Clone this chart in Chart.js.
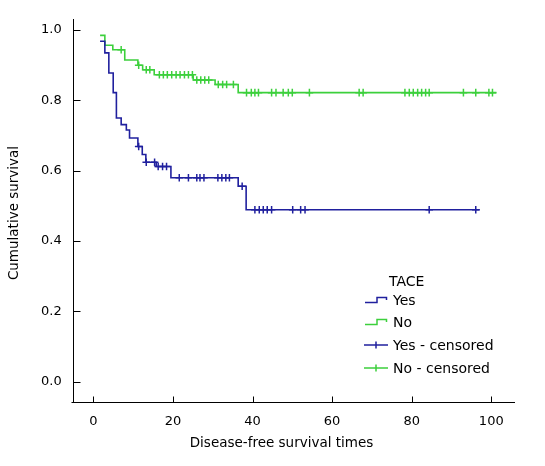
<!DOCTYPE html>
<html><head><meta charset="utf-8">
<script src="https://cdn.jsdelivr.net/npm/chart.js@4/dist/chart.umd.min.js"></script>
<style>
html,body{margin:0;padding:0;background:#fff;}
#wrap{position:relative;width:545px;height:466px;overflow:hidden;}
canvas{position:absolute;left:0;top:0;}
.lg{position:absolute;font-family:'DejaVu Sans';font-size:14px;line-height:16px;color:#000;white-space:nowrap;}
.ic{position:absolute;}
</style></head><body>
<div id="wrap"><canvas id="c" width="545" height="466"></canvas><div id="legend"></div></div>
<script>
// ---- data ----
const yesTimes = [1.7, 2.9, 3.9, 5.0, 5.8, 7.0, 8.3, 9.1, 11.2, 12.3, 13.2, 15.8, 19.5, 36.4, 38.4, 97.1];
const yesSurv  = [0.968, 0.935, 0.878, 0.822, 0.750, 0.731, 0.716, 0.693, 0.669, 0.646, 0.624, 0.612, 0.580, 0.556, 0.489, 0.489];
const yesCensored = [11.4, 13.3, 15.4, 16.3, 17.4, 18.4, 21.6, 23.9, 26.0, 26.8, 27.8, 31.3, 32.3, 33.3, 34.2, 37.4,
  40.6, 41.7, 42.7, 43.7, 44.8, 50.1, 52.1, 53.2, 84.4, 96.1];
const noTimes = [1.7, 2.9, 4.9, 7.9, 11.2, 12.4, 15.3, 25.1, 30.6, 36.4, 101.3];
const noSurv  = [0.985, 0.957, 0.944, 0.915, 0.900, 0.887, 0.873, 0.858, 0.845, 0.822, 0.822];
const noCensored = [7.0, 11.4, 13.3, 14.2, 16.6, 17.6, 18.6, 19.7, 20.8, 21.8, 22.9, 23.9, 24.9, 26.0, 27.0, 28.0, 29.0,
  31.4, 32.5, 33.5, 35.2, 38.5, 39.7, 40.6, 41.5, 44.8, 45.9, 47.7, 49.0, 50.0, 54.3, 66.8, 67.8,
  78.3, 79.4, 80.4, 81.5, 82.5, 83.5, 84.4, 93.0, 96.1, 99.4, 100.3];
const xTicks = [0, 20, 40, 60, 80, 100];
const yTicks = [0.0, 0.2, 0.4, 0.6, 0.8, 1.0];
const legendTitle = 'TACE';
const legendLabels = ['Yes', 'No', 'Yes - censored', 'No - censored'];
const xTitle = 'Disease-free survival times';
const yTitle = 'Cumulative survival';

const BLUE = '#20209e';
const GREEN = '#3cd03c';
const FONT = {family: 'DejaVu Sans', size: 13};
const TITLE_FONT = '13.5px "DejaVu Sans"';

function levelAt(times, surv, t) {
  let v = surv[0];
  for (let i = 0; i < times.length; i++) { if (times[i] <= t) v = surv[i]; }
  return v;
}
const curve = (times, surv) => times.map((t, i) => ({x: t, y: surv[i]}));
const marks = (cens, times, surv) => cens.map(t => ({x: t, y: levelAt(times, surv, t)}));

const axisPlugin = {
  id: 'axes',
  afterDraw(chart) {
    const {ctx, chartArea: a, scales: {x, y}} = chart;
    ctx.save();
    ctx.strokeStyle = '#000';
    ctx.lineWidth = 1;
    const L = Math.round(a.left) + 0.5, B = Math.round(a.bottom) + 0.5;
    ctx.beginPath();
    ctx.moveTo(L, Math.round(a.top));
    ctx.lineTo(L, B);
    ctx.moveTo(L - 2, B);
    ctx.lineTo(Math.round(a.right), B);
    xTicks.forEach(v => { const p = Math.round(x.getPixelForValue(v)) + 0.5; ctx.moveTo(p, B); ctx.lineTo(p, B - 6); });
    yTicks.forEach(v => { const p = Math.round(y.getPixelForValue(v)) + 0.5; ctx.moveTo(L, p); ctx.lineTo(L + 7, p); });
    ctx.stroke();
    // axis titles
    ctx.fillStyle = '#000';
    ctx.font = TITLE_FONT;
    ctx.textAlign = 'center';
    ctx.textBaseline = 'middle';
    ctx.fillText(xTitle, 281.5, 443);
    ctx.translate(14, 213);
    ctx.rotate(-Math.PI / 2);
    ctx.fillText(yTitle, 0, 0);
    ctx.restore();
  }
};

new Chart(document.getElementById('c'), {
  type: 'scatter',
  data: {
    datasets: [
      {label: legendLabels[0], data: curve(yesTimes, yesSurv), showLine: true, stepped: true,
        borderColor: BLUE, borderWidth: 1.6, pointRadius: 0, fill: false},
      {label: legendLabels[1], data: curve(noTimes, noSurv), showLine: true, stepped: true,
        borderColor: GREEN, borderWidth: 1.6, pointRadius: 0, fill: false},
      {label: legendLabels[2], data: marks(yesCensored, yesTimes, yesSurv), showLine: false,
        pointStyle: 'cross', pointRadius: 3.8, borderColor: BLUE, backgroundColor: BLUE, borderWidth: 1.5},
      {label: legendLabels[3], data: marks(noCensored, noTimes, noSurv), showLine: false,
        pointStyle: 'cross', pointRadius: 3.8, borderColor: GREEN, backgroundColor: GREEN, borderWidth: 1.5}
    ]
  },
  options: {
    responsive: false, animation: false, devicePixelRatio: 1,
    layout: {padding: {top: 18, right: 30, left: 0, bottom: 0}},
    plugins: {legend: {display: false}, tooltip: {enabled: false}},
    scales: {
      x: {
        type: 'linear', min: -5.18, max: 105.96,
        afterBuildTicks: s => { s.ticks = xTicks.map(v => ({value: v})); },
        afterFit: s => { s.height = 64.3; },
        grid: {display: false, drawTicks: false}, border: {display: false},
        ticks: {padding: 12, font: FONT, color: '#000', maxRotation: 0, autoSkip: false},
        title: {display: false}
      },
      y: {
        type: 'linear', min: -0.0568, max: 1.032,
        afterBuildTicks: s => { s.ticks = yTicks.map(v => ({value: v})); },
        afterFit: s => { s.width = 72.7; },
        grid: {display: false, drawTicks: false}, border: {display: false},
        ticks: {padding: 11, font: FONT, color: '#000', autoSkip: false, callback: v => v.toFixed(1)},
        title: {display: false}
      }
    }
  },
  plugins: [axisPlugin]
});

// ---- legend (HTML) ----
const lg = document.getElementById('legend');
const NS = 'http://www.w3.org/2000/svg';
function addText(txt, left, cy) {
  const d = document.createElement('div');
  d.className = 'lg'; d.textContent = txt;
  d.style.left = left + 'px'; d.style.top = (cy - 8) + 'px';
  lg.appendChild(d);
}
function addIcon(kind, color, cy) {
  const s = document.createElementNS(NS, 'svg');
  s.setAttribute('width', '26'); s.setAttribute('height', '12');
  s.setAttribute('class', 'ic');
  s.style.left = '363px'; s.style.top = (cy - 6) + 'px';
  const p = document.createElementNS(NS, 'path');
  p.setAttribute('d', kind === 'step' ? 'M2 8.5 H14 V3.5 H23.5 V6' : 'M1 6 H25 M13 2.5 V9.5');
  p.setAttribute('stroke', color); p.setAttribute('stroke-width', '1.5'); p.setAttribute('fill', 'none');
  s.appendChild(p);
  lg.appendChild(s);
}
addText(legendTitle, 389, 281);
const rows = [300, 322, 345, 368];
const kinds = ['step', 'step', 'cross', 'cross'];
const cols = [BLUE, GREEN, BLUE, GREEN];
legendLabels.forEach((t, i) => { addIcon(kinds[i], cols[i], rows[i]); addText(t, 393, rows[i]); });
</script>
</body></html>
